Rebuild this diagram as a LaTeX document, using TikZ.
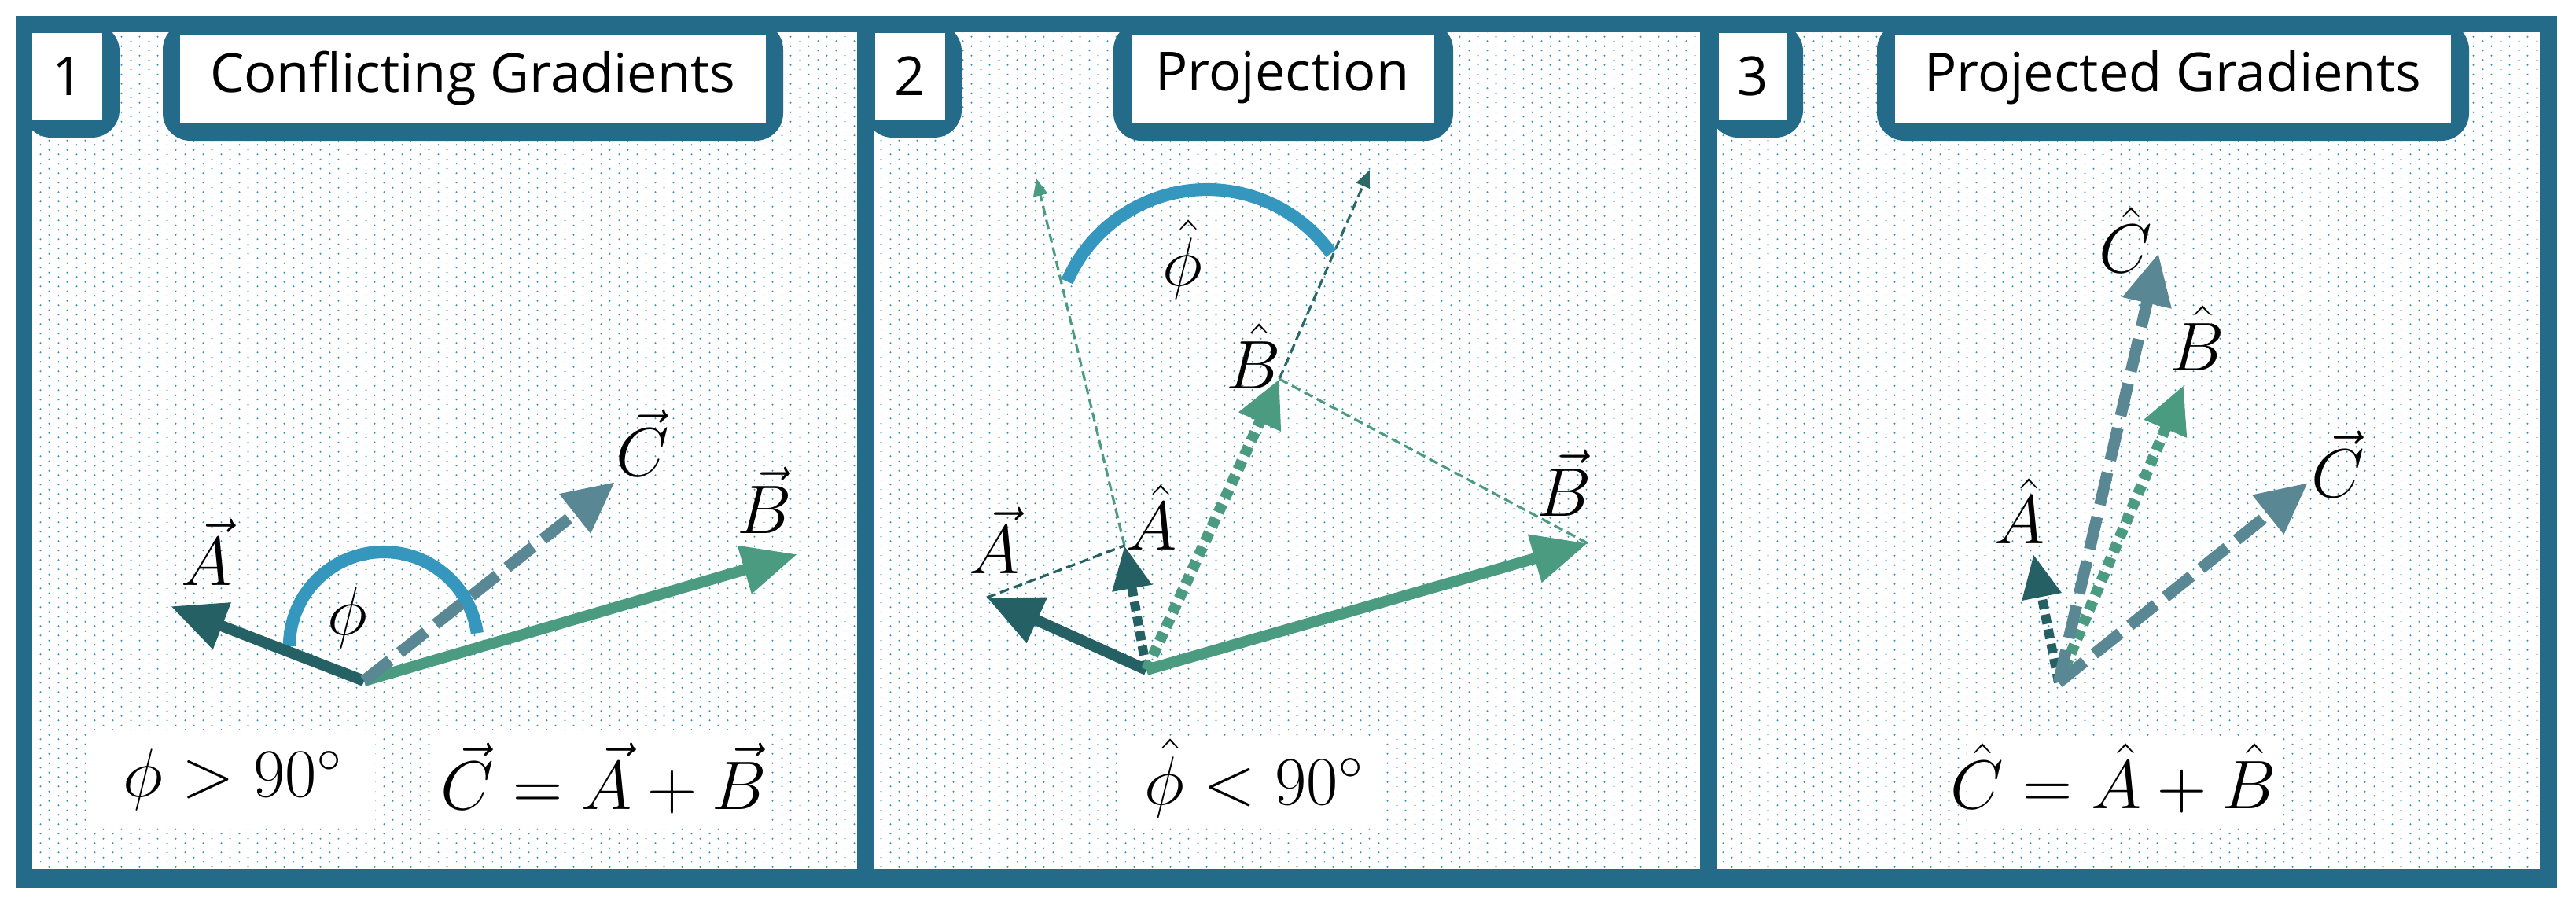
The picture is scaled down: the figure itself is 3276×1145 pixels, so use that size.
\documentclass[tikz,border=0pt]{standalone}
\usepackage{fontspec}
\setsansfont{Open Sans}
\usetikzlibrary{arrows.meta,patterns.meta}
\definecolor{frame}{HTML}{246B89}
\definecolor{cA}{HTML}{256064}
\definecolor{cB}{HTML}{4A9B7F}
\definecolor{cC}{HTML}{5A8794}
\definecolor{cArc}{HTML}{3596BE}
\definecolor{dotc}{HTML}{2F8FBF}
\tikzdeclarepattern{
  name=pdots, type=colored,
  bottom left={(0,0)}, top right={(0.23cm,0.115cm)},
  tile size={(0.23cm,0.115cm)},
  code={\fill[dotc] (0.0575cm,0.0288cm) circle (0.012cm);
        \fill[dotc] (0.1725cm,0.0863cm) circle (0.012cm);}
}
\tikzset{
  ttl/.style={font=\sffamily\fontsize{19.5}{24}\selectfont},
  mth/.style={font=\fontsize{24}{28}\selectfont},
  lbl/.style={font=\fontsize{23}{27}\selectfont},
  vecA/.style={cA,line width=4pt,-{Triangle[length=0.7cm,width=0.6cm]}},
  vecB/.style={cB,line width=4pt,-{Triangle[length=0.7cm,width=0.6cm]}},
  vecC/.style={cC,line width=4.2pt,dash pattern=on 0.42cm off 0.16cm,-{Triangle[length=0.65cm,width=0.6cm]}},
  hatA/.style={cA,line width=3.4pt,dash pattern=on 0.12cm off 0.07cm,-{Triangle[length=0.55cm,width=0.48cm]}},
  hatB/.style={cB,line width=4pt,dash pattern=on 0.12cm off 0.08cm,-{Triangle[length=0.6cm,width=0.55cm]}},
  thinline/.style={line width=0.9pt,dash pattern=on 0.12cm off 0.06cm},
  arcst/.style={cArc,line width=4.6pt},
}
\begin{document}
\begin{tikzpicture}[x=0.01cm,y=-0.01cm]
\useasboundingbox (0,0) rectangle (3276,1145);
\fill[white] (0,0) rectangle (3276,1145);
\fill[frame] (20,20) rectangle (3252,1129);
% panels
\foreach \a/\b in {41/1090,1111/2162,2184/3230}{
  \fill[white] (\a,41) rectangle (\b,1105);
  \fill[pattern=pdots] (\a,41) rectangle (\b,1105);
}
% number boxes
\fill[frame,rounded corners=10] (30,30) rectangle (152,175);
\fill[white] (41,42) rectangle (130,152);
\node[ttl] (n1) at (86,97) {1};
\fill[frame,rounded corners=10] (1100,30) rectangle (1223,175);
\fill[white] (1113,42) rectangle (1202,152);
\node[ttl] (n2) at (1157,97) {2};
\fill[frame,rounded corners=10] (2175,30) rectangle (2293,175);
\fill[white] (2186,42) rectangle (2272,152);
\node[ttl] (n3) at (2229,97) {3};
% titles
\fill[frame,rounded corners=10] (207,28) rectangle (996,179);
\fill[white] (229,45) rectangle (974,157);
\node[ttl] (t1) at (601,99) {Conflicting Gradients};
\fill[frame,rounded corners=10] (1416,28) rectangle (1848,179);
\fill[white] (1439,45) rectangle (1824,157);
\node[ttl] (t2) at (1631,99) {Projection};
\fill[frame,rounded corners=10] (2387,28) rectangle (3140,179);
\fill[white] (2410,45) rectangle (3117,157);
\node[ttl] (t3) at (2763,99) {Projected Gradients};
% bottom boxes
\fill[white] (115,928) rectangle (477,1053);
\node[mth] (f1) at (296,992) {$\phi > 90^\circ$};
\fill[white] (554,928) rectangle (979,1053);
\node[mth] (f2) at (768,990) {$\vec{C} = \vec{A} + \vec{B}$};
\fill[white] (1427,936) rectangle (1763,1053);
\node[mth] (f3) at (1595,990) {$\hat{\phi} < 90^\circ$};
\fill[white] (2501,936) rectangle (2897,1053);
\node[mth] (f4) at (2688,990) {$\hat{C} = \hat{A} + \hat{B}$};

% ---------- panel 1
\coordinate (O1) at (463,866);
\coordinate (A1) at (217,771);
\coordinate (B1) at (1014,705);
\coordinate (C1) at (782,613);
\draw[arcst] (368,822) arc[start angle=180,end angle=352,radius=120];
\draw[vecB] (O1) -- (B1);
\draw[vecA] (O1) -- (A1);
\draw[vecC] (O1) -- (C1);
\node[lbl] (la1) at (263,702) {$\vec{A}$};
\node[lbl] (lb1) at (972,636) {$\vec{B}$};
\node[lbl] (lc1) at (817,563) {$\vec{C}$};
\node[lbl] (lp1) at (442,786) {$\phi$};

% ---------- panel 2
\coordinate (O2) at (1458,852);
\coordinate (A2) at (1255,760);
\coordinate (B2) at (2019,691);
\coordinate (Ah2) at (1430,694);
\coordinate (Bh2) at (1627,482);
\coordinate (Ae2) at (1318,227);
\coordinate (Be2) at (1742,216);
\draw[thinline,cB,-{Triangle[length=0.22cm,width=0.18cm]}] (Ah2) -- (Ae2);
\draw[thinline,cA!85!cB,-{Triangle[length=0.22cm,width=0.18cm]}] (Bh2) -- (Be2);
\draw[arcst] (1357,358) arc[start angle=203.4,end angle=324.4,radius=194];
\draw[thinline,cA] (A2) -- (Ah2);
\draw[thinline,cB] (B2) -- (Bh2);
\draw[vecB] (O2) -- (B2);
\draw[vecA] (O2) -- (A2);
\draw[hatA] (O2) -- (Ah2);
\draw[hatB] (O2) -- (Bh2);
\node[lbl] (la2) at (1265,687) {$\vec{A}$};
\node[lbl] (lah2) at (1465,658) {$\hat{A}$};
\node[lbl] (lbh2) at (1594,453) {$\hat{B}$};
\node[lbl] (lb2) at (1989,614) {$\vec{B}$};
\node[lbl] (lp2) at (1504,330) {$\hat{\phi}$};

% ---------- panel 3
\coordinate (O3) at (2618,868);
\coordinate (Ah3) at (2586,705);
\coordinate (Bh3) at (2777,490);
\coordinate (C3) at (2935,614);
\coordinate (Ch3) at (2745,322);
\draw[hatA] (O3) -- (Ah3);
\draw[hatB] (O3) -- (Bh3);
\draw[vecC] (O3) -- (C3);
\draw[vecC] (O3) -- (Ch3);
\node[lbl] (lch3) at (2703,305) {$\hat{C}$};
\node[lbl] (lbh3) at (2794,430) {$\hat{B}$};
\node[lbl] (lah3) at (2569,650) {$\hat{A}$};
\node[lbl] (lc3) at (2973,590) {$\vec{C}$};
\end{tikzpicture}
\end{document}
